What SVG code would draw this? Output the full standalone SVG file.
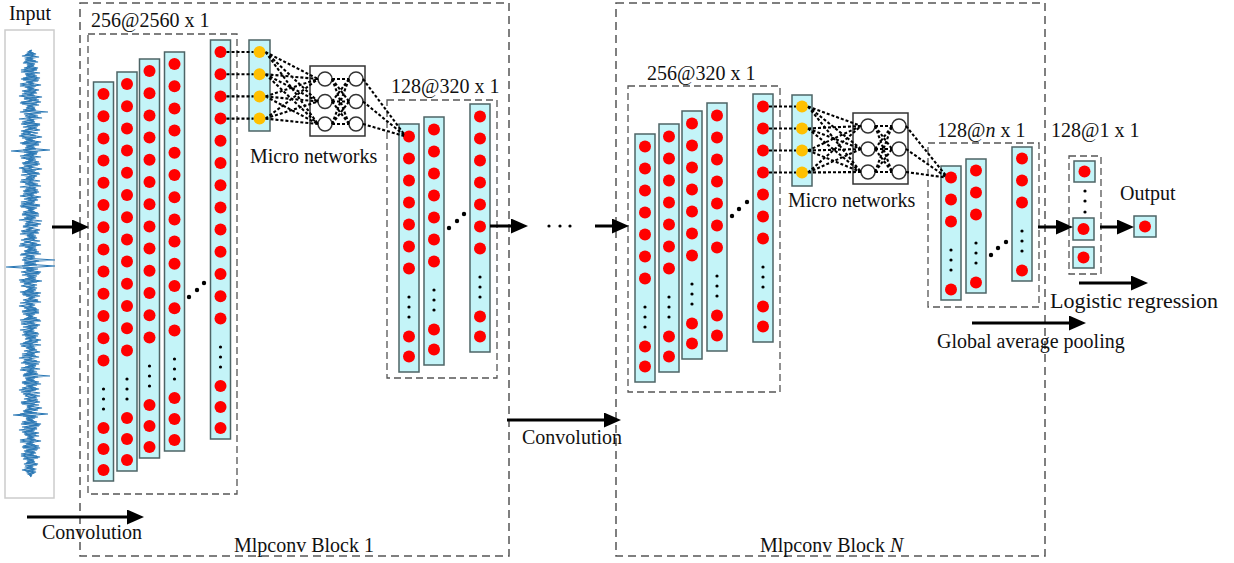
<svg xmlns="http://www.w3.org/2000/svg" xmlns:xlink="http://www.w3.org/1999/xlink" width="1234" height="563" viewBox="0 0 1234 563">
<style>
text{font-family:"Liberation Serif","Times New Roman",serif;font-size:20px;fill:#111}
.col{fill:#c4f4f8;stroke:#4d6466;stroke-width:1.5}
.r{fill:#ff0000}
.o{fill:#ffc000}
.k{fill:#000}
.blk{fill:none;stroke:#555;stroke-width:1.5;stroke-dasharray:8 5}
.box{fill:none;stroke:#555;stroke-width:1.3;stroke-dasharray:7 4}
.mn{fill:#fff;stroke:#333;stroke-width:1.5}
.dl{fill:none;stroke:#000;stroke-width:2.1;stroke-dasharray:3 2}
.ar{stroke:#000;stroke-width:3;marker-end:url(#ah)}
</style>
<defs>
<marker id="ah" markerUnits="userSpaceOnUse" markerWidth="17" markerHeight="15" refX="8" refY="7.5" orient="auto"><path d="M0,0 L17,7.5 L0,15 z" fill="#000"/></marker>
<g id="c13">
<rect class="col" x="0" y="0" width="20" height="399"/>
<circle class="r" cx="10" cy="12" r="6"/><circle class="r" cx="10" cy="34.2" r="6"/><circle class="r" cx="10" cy="56.4" r="6"/><circle class="r" cx="10" cy="78.6" r="6"/><circle class="r" cx="10" cy="100.8" r="6"/><circle class="r" cx="10" cy="123" r="6"/><circle class="r" cx="10" cy="145.2" r="6"/><circle class="r" cx="10" cy="167.4" r="6"/><circle class="r" cx="10" cy="189.6" r="6"/><circle class="r" cx="10" cy="211.8" r="6"/><circle class="r" cx="10" cy="234" r="6"/><circle class="r" cx="10" cy="256.2" r="6"/><circle class="r" cx="10" cy="278.4" r="6"/>
<circle class="k" cx="10" cy="307" r="1.6"/><circle class="k" cx="10" cy="317" r="1.6"/><circle class="k" cx="10" cy="327" r="1.6"/>
<circle class="r" cx="10" cy="346" r="6"/><circle class="r" cx="10" cy="367" r="6"/><circle class="r" cx="10" cy="388" r="6"/>
</g>
<g id="c7">
<rect class="col" x="0" y="0" width="20" height="248"/>
<circle class="r" cx="10" cy="12.5" r="6"/><circle class="r" cx="10" cy="34.5" r="6"/><circle class="r" cx="10" cy="56.5" r="6"/><circle class="r" cx="10" cy="78.5" r="6"/><circle class="r" cx="10" cy="100.5" r="6"/><circle class="r" cx="10" cy="122.5" r="6"/><circle class="r" cx="10" cy="144.5" r="6"/>
<circle class="k" cx="10" cy="173" r="1.6"/><circle class="k" cx="10" cy="183" r="1.6"/><circle class="k" cx="10" cy="193" r="1.6"/>
<circle class="r" cx="10" cy="212.5" r="6"/><circle class="r" cx="10" cy="232.5" r="6"/>
</g>
<g id="c3">
<rect class="col" x="0" y="0" width="20" height="134"/>
<circle class="r" cx="10" cy="11.5" r="6"/><circle class="r" cx="10" cy="33.5" r="6"/><circle class="r" cx="10" cy="55.5" r="6"/>
<circle class="k" cx="10" cy="84" r="1.6"/><circle class="k" cx="10" cy="94" r="1.6"/><circle class="k" cx="10" cy="104" r="1.6"/>
<circle class="r" cx="10" cy="123.5" r="6"/>
</g>
<polyline id="sig" fill="none" stroke="#2b78b5" stroke-width="1.2" points="32,50 28,52 36,54 22,56 33,58 25,60 38,62 27,64 34,66 24,68 37,70 21,72 35,74 26,76 40,78 23,80 33,82 20,84 36,86 27,88 39,90 24,92 34,94 19,96 37,98 29,100 41,102 22,104 33,106 26,108 36,110 20,112 32,114 25,116 42,118 27,120 35,122 21,124 38,126 28,128 40,130 23,132 31,134 19,136 36,138 26,140 41,142 22,144 34,146 25,148 50,150 24,152 37,154 20,156 35,158 28,160 39,162 23,164 32,166 19,168 36,170 22,172 40,174 29,176 35,178 21,180 33,182 25,184 41,186 26,188 38,190 24,192 34,194 20,196 37,198 28,200 35,202 21,204 40,206 27,208 32,210 23,212 39,214 26,216 36,218 19,220 33,222 25,224 38,226 29,228 40,230 22,232 34,234 27,236 37,238 21,240 31,242 20,244 36,246 28,248 37,250 25,252 41,254 26,256 33,258 22,260 36,262 24,264 55,266 23,268 34,270 21,272 39,274 27,276 36,278 19,280 37,282 24,284 35,286 29,288 36,290 20,292 38,294 26,296 33,298 23,300 41,302 26,304 32,306 24,308 39,310 22,312 35,314 28,316 37,318 20,320 34,322 21,324 38,326 28,328 33,330 23,332 39,334 25,336 36,338 29,340 38,342 20,344 34,346 26,348 37,350 27,352 35,354 22,356 32,358 24,360 40,362 25,364 36,366 21,368 34,370 28,372 38,374 23,376 35,378 26,380 39,382 24,384 33,386 22,388 36,390 21,392 31,394 25,396 37,398 27,400 40,402 22,404 34,406 28,408 38,410 24,412 48,414 23,416 35,418 27,420 37,422 21,424 39,426 24,428 35,430 22,432 36,434 28,436 33,438 20,440 34,442 26,444 39,446 23,448 37,450 25,452 34,454 21,456 38,458 27,460 35,462 24,464 33,466 26,468 34,470 27,472 31,474 30,476"/>
</defs>
<rect width="1234" height="563" fill="#fff"/>

<g id="input">
<text x="30" y="20" text-anchor="middle">Input</text>
<rect x="5" y="30" width="49" height="468" fill="#fff" stroke="#ccc" stroke-width="1.5"/>
<use xlink:href="#sig"/>
<use xlink:href="#sig" transform="translate(61,1) scale(-1,1)"/>
<use xlink:href="#sig" transform="translate(0,476) scale(1,-1) translate(0,-50)"/>
</g>

<g id="block1">
<rect class="blk" x="80" y="3" width="429" height="553"/>
<text x="234" y="552">Mlpconv Block 1</text>
</g>
<g id="blockN">
<rect class="blk" x="616" y="3" width="429" height="553"/>
<text x="760" y="552">Mlpconv Block <tspan font-style="italic">N</tspan></text>
</g>

<g id="layer1a">
<rect class="box" x="88" y="34" width="149" height="460"/>
<text x="91" y="27">256@2560 x 1</text>
<use xlink:href="#c13" x="93.5" y="82"/>
<use xlink:href="#c13" x="117" y="72"/>
<use xlink:href="#c13" x="139.5" y="59"/>
<use xlink:href="#c13" x="164.5" y="52"/>
<use xlink:href="#c13" x="210.5" y="40"/>
<circle class="k" cx="189" cy="297" r="2.2"/><circle class="k" cx="197" cy="290" r="2.2"/><circle class="k" cx="204" cy="283" r="2.2"/>
</g>

<g id="micro1">
<rect class="col" x="249" y="40" width="21" height="91"/>
<circle class="o" cx="259.5" cy="52" r="6"/><circle class="o" cx="259.5" cy="74.2" r="6"/><circle class="o" cx="259.5" cy="96.4" r="6"/><circle class="o" cx="259.5" cy="118.6" r="6"/>
<rect class="mn" x="310" y="66" width="55" height="70"/>
<circle class="mn" cx="325" cy="79" r="7"/><circle class="mn" cx="325" cy="101.5" r="7"/><circle class="mn" cx="325" cy="124" r="7"/>
<circle class="mn" cx="356" cy="79" r="7"/><circle class="mn" cx="356" cy="101.5" r="7"/><circle class="mn" cx="356" cy="124" r="7"/>
<text x="250" y="163">Micro networks</text>
</g>

<g id="layer1b">
<rect class="box" x="387" y="100" width="110" height="278"/>
<text x="391" y="93">128@320 x 1</text>
<use xlink:href="#c7" x="399" y="124"/>
<use xlink:href="#c7" x="424" y="117"/>
<use xlink:href="#c7" x="470" y="104"/>
<circle class="k" cx="449" cy="228" r="2.2"/><circle class="k" cx="457" cy="221" r="2.2"/><circle class="k" cx="464" cy="214" r="2.2"/>
</g>

<g id="ellipsis">
<circle class="k" cx="549" cy="226" r="1.6"/><circle class="k" cx="560" cy="226" r="1.6"/><circle class="k" cx="570" cy="226" r="1.6"/>
</g>

<g id="layerNa">
<rect class="box" x="628" y="86" width="152" height="306"/>
<text x="647" y="80">256@320 x 1</text>
<use xlink:href="#c7" x="635" y="134"/>
<use xlink:href="#c7" x="659" y="124"/>
<use xlink:href="#c7" x="682" y="111"/>
<use xlink:href="#c7" x="707" y="103"/>
<use xlink:href="#c7" x="753" y="94"/>
<circle class="k" cx="732" cy="216" r="2.2"/><circle class="k" cx="739" cy="209" r="2.2"/><circle class="k" cx="747" cy="202" r="2.2"/>
</g>

<g id="microN">
<rect class="col" x="792" y="95" width="20" height="91"/>
<circle class="o" cx="802" cy="106.5" r="6"/><circle class="o" cx="802" cy="128.5" r="6"/><circle class="o" cx="802" cy="150.5" r="6"/><circle class="o" cx="802" cy="172.5" r="6"/>
<rect class="mn" x="853" y="113" width="55" height="71"/>
<circle class="mn" cx="868" cy="126" r="7"/><circle class="mn" cx="868" cy="149" r="7"/><circle class="mn" cx="868" cy="172" r="7"/>
<circle class="mn" cx="899" cy="126" r="7"/><circle class="mn" cx="899" cy="149" r="7"/><circle class="mn" cx="899" cy="172" r="7"/>
<text x="788" y="207">Micro networks</text>
</g>

<g id="layerNb">
<rect class="box" x="928" y="143" width="111" height="164"/>
<text x="937" y="137">128@<tspan font-style="italic">n</tspan> x 1</text>
<use xlink:href="#c3" x="941" y="166"/>
<use xlink:href="#c3" x="966" y="159"/>
<use xlink:href="#c3" x="1012" y="147"/>
<circle class="k" cx="991" cy="255" r="2.2"/><circle class="k" cx="998" cy="248" r="2.2"/><circle class="k" cx="1006" cy="242" r="2.2"/>
</g>

<g id="pooled">
<text x="1051" y="137">128@1 x 1</text>
<rect class="box" x="1069" y="156" width="32" height="118"/>
<rect class="col" x="1074" y="161" width="21" height="21"/><circle class="r" cx="1084.5" cy="171.5" r="6"/>
<circle class="k" cx="1085" cy="191" r="1.6"/><circle class="k" cx="1085" cy="201" r="1.6"/><circle class="k" cx="1085" cy="212" r="1.6"/>
<rect class="col" x="1073" y="218" width="21" height="22"/><circle class="r" cx="1083.5" cy="229" r="6"/>
<rect class="col" x="1073" y="247" width="21" height="21"/><circle class="r" cx="1083.5" cy="257.5" r="6"/>
</g>

<g id="output">
<text x="1120" y="200">Output</text>
<rect class="col" x="1134" y="216" width="22" height="21"/><circle class="r" cx="1145" cy="226.5" r="6"/>
</g>

<g id="labels">
<text x="1050" y="308" style="font-size:22px">Logistic regression</text>
<text x="937" y="348">Global average pooling</text>
<text x="42" y="539">Convolution</text>
<text x="522" y="444">Convolution</text>
</g>

<g id="connectors">
<line class="ar" x1="52" y1="227" x2="80" y2="227"/>
<line class="ar" x1="490" y1="226" x2="519" y2="226"/>
<line class="ar" x1="595" y1="226" x2="620" y2="226"/>
<line class="ar" x1="27" y1="517" x2="135" y2="517"/>
<line class="ar" x1="507" y1="420" x2="612" y2="420"/>
<line class="ar" x1="1038" y1="227" x2="1064" y2="227"/>
<line class="ar" x1="1100" y1="227" x2="1125" y2="227"/>
<line class="ar" x1="1079" y1="283" x2="1139" y2="283"/>
<line class="ar" x1="972" y1="323" x2="1077" y2="323"/>
<path class="dl" d="M226.5,52H253.5M226.5,74.2H253.5M226.5,96.4H253.5M226.5,118.6H253.5"/>
<path class="dl" d="M265.5,52L318,79M265.5,52L318,101.5M265.5,52L318,124M265.5,74.2L318,79M265.5,74.2L318,101.5M265.5,74.2L318,124M265.5,96.4L318,79M265.5,96.4L318,101.5M265.5,96.4L318,124M265.5,118.6L318,79M265.5,118.6L318,101.5M265.5,118.6L318,124"/>
<path class="dl" d="M332,79L349,79M332,79L349,101.5M332,79L349,124M332,101.5L349,79M332,101.5L349,101.5M332,101.5L349,124M332,124L349,79M332,124L349,101.5M332,124L349,124"/>
<path class="dl" d="M363,79L404,134M363,101.5L404,135M363,124L404,136"/>
<path class="dl" d="M769,106.5H796M769,128.5H796M769,150.5H796M769,172.5H796"/>
<path class="dl" d="M808,106.5L861,126M808,106.5L861,149M808,106.5L861,172M808,128.5L861,126M808,128.5L861,149M808,128.5L861,172M808,150.5L861,126M808,150.5L861,149M808,150.5L861,172M808,172.5L861,126M808,172.5L861,149M808,172.5L861,172"/>
<path class="dl" d="M875,126L892,126M875,126L892,149M875,126L892,172M875,149L892,126M875,149L892,149M875,149L892,172M875,172L892,126M875,172L892,149M875,172L892,172"/>
<path class="dl" d="M906,126L945.5,175M906,149L945.5,176.5M906,172L945.5,177.5"/>
</g>
</svg>
